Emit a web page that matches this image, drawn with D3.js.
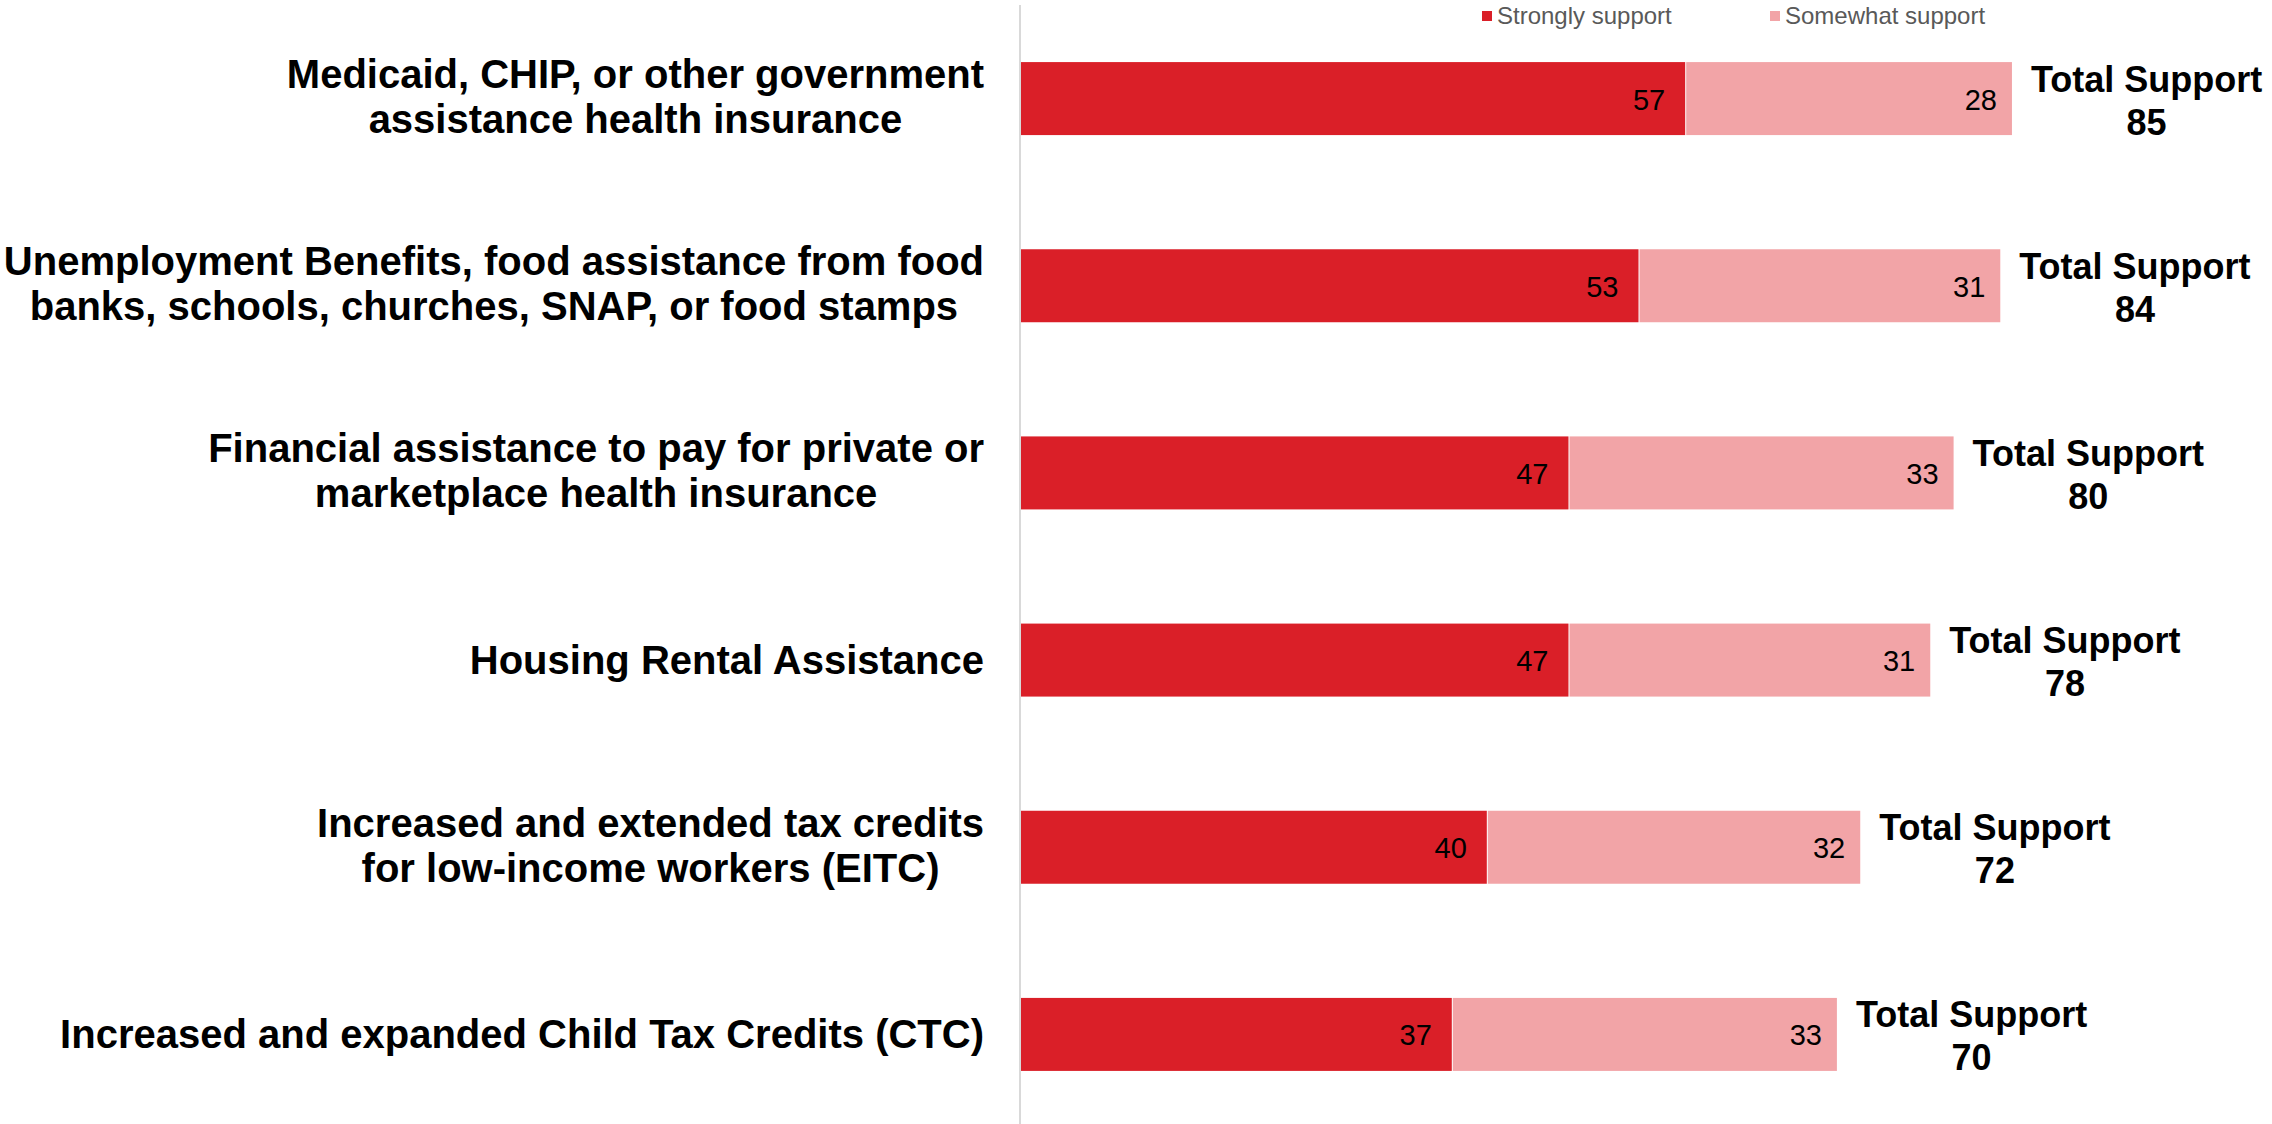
<!DOCTYPE html>
<html>
<head>
<meta charset="utf-8">
<script src="https://cdn.jsdelivr.net/npm/d3@7"></script>
<style>
  html, body { margin: 0; padding: 0; background: #fff; }
  svg { display: block; font-family: "Liberation Sans", Arial, sans-serif; }
</style>
</head>
<body>
<svg width="2272" height="1124"></svg>
<script>
// data
var categories = [
    ["Medicaid, CHIP, or other government", "assistance health insurance"],
    ["Unemployment Benefits, food assistance from food", "banks, schools, churches, SNAP, or food stamps"],
    ["Financial assistance to pay for private or", "marketplace health insurance"],
    ["Housing Rental Assistance"],
    ["Increased and extended tax credits", "for low-income workers (EITC)"],
    ["Increased and expanded Child Tax Credits (CTC)"]
];
var strongly = [57, 53, 47, 47, 40, 37];
var somewhat = [28, 31, 33, 31, 32, 33];
var seriesNames = ["Strongly support", "Somewhat support"];
var totalLabel = "Total Support";

var colors = ["#da1f28", "#f2a4a7"];

var svg = d3.select("svg");
var width = +svg.attr("width");
var height = +svg.attr("height");

var rows = categories.map(function(c, i){
    return {key: i, lines: c, s: strongly[i], w: somewhat[i], total: strongly[i] + somewhat[i]};
});

// scales
var x = d3.scaleLinear().domain([0, 100]).range([1020, 2187]);
var y = d3.scaleBand()
    .domain(rows.map(d => d.key))
    .range([5, 1128])
    .paddingInner(0.61)
    .paddingOuter(0.305);
var bw = y.bandwidth();
var cy = d => y(d.key) + bw / 2;

// axis line
svg.append("line")
    .attr("x1", x(0)).attr("x2", x(0))
    .attr("y1", 5).attr("y2", height)
    .attr("stroke", "#d9d9d9")
    .attr("stroke-width", 2);

// bars
var g = svg.append("g");
var row = g.selectAll("g.row")
    .data(rows).enter()
    .append("g").attr("class", "row");

row.append("rect")
    .attr("x", x(0) + 1)
    .attr("y", d => y(d.key))
    .attr("width", d => x(d.s) - x(0) - 1)
    .attr("height", bw)
    .attr("fill", colors[0]);

row.append("rect")
    .attr("x", d => x(d.s) + 1)
    .attr("y", d => y(d.key))
    .attr("width", d => x(d.total) - x(d.s) - 1)
    .attr("height", bw)
    .attr("fill", colors[1]);

// value labels
row.append("text")
    .attr("x", d => x(d.s) - 20)
    .attr("y", d => cy(d) + 11)
    .attr("text-anchor", "end")
    .attr("font-size", 29)
    .attr("fill", "#000")
    .text(d => d.s);

row.append("text")
    .attr("x", d => x(d.total) - 15)
    .attr("y", d => cy(d) + 11)
    .attr("text-anchor", "end")
    .attr("font-size", 29)
    .attr("fill", "#000")
    .text(d => d.w);

// total labels
row.each(function(d){
    var t = d3.select(this).append("text")
        .attr("font-size", 36)
        .attr("font-weight", "bold")
        .attr("fill", "#000")
        .attr("text-anchor", "middle");
    var t1 = t.append("tspan").text(totalLabel);
    var w = t1.node().getComputedTextLength();
    var mid = x(d.total) + 19 + w / 2;
    t1.attr("x", mid).attr("y", cy(d) - 7);
    t.append("tspan").attr("x", mid).attr("y", cy(d) + 36).text(d.total);
});

// category labels, block right-aligned, lines centred
var labelRight = 984;
row.each(function(d){
    var t = d3.select(this).append("text")
        .attr("font-size", 40)
        .attr("font-weight", "bold")
        .attr("fill", "#000")
        .attr("text-anchor", "middle");
    var n = d.lines.length;
    var spans = d.lines.map(function(l){ return t.append("tspan").text(l); });
    var maxW = d3.max(spans, s => s.node().getComputedTextLength());
    var mid = labelRight - maxW / 2;
    spans.forEach(function(s, i){
        var base = cy(d) + (i - (n - 1) / 2) * 45 + 14 - (n > 1 ? 2 : 0);
        s.attr("x", mid).attr("y", base);
    });
});

// legend
var legend = svg.append("g");
var legX = [1482, 1770];
seriesNames.forEach(function(name, i){
    legend.append("rect")
        .attr("x", legX[i]).attr("y", 11)
        .attr("width", 10).attr("height", 10)
        .attr("fill", colors[i]);
    legend.append("text")
        .attr("x", legX[i] + 15).attr("y", 24)
        .attr("font-size", 24)
        .attr("fill", "#595959")
        .text(name);
});
</script>
</body>
</html>
